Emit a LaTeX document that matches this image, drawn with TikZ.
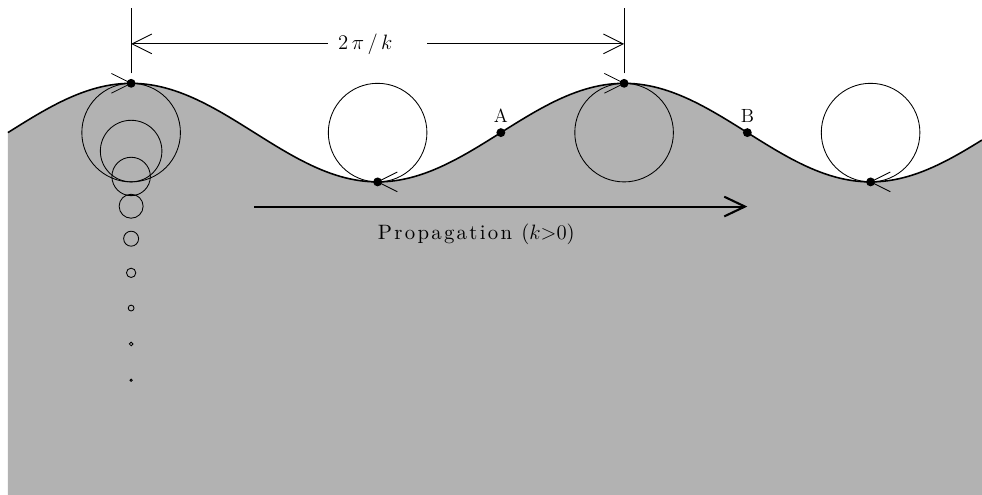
\documentclass[tikz,border=0pt]{standalone}
\usepackage{fontspec}
\usepackage{tikz}
\usetikzlibrary{arrows.meta}

\newfontfamily\propfont{lmroman10-regular.otf}[LetterSpace=11]

\begin{document}
\begin{tikzpicture}[
        font=\fontsize{11}{13}\selectfont,
        wave/.style={line width=0.9pt},
        orbit/.style={line width=0.5pt},
        dimline/.style={line width=0.5pt},
        dimarrow/.style={line width=0.5pt,-{Straight Barb[length=4mm,width=4mm]}},
        proparrow/.style={line width=1.2pt,-{Straight Barb[length=4.2mm,width=4mm]}},
        ptlabel/.style={above=4.5pt,inner sep=1pt},
    ]
        \useasboundingbox (-2.66,-7.35) rectangle (17.26,2.69);

        % Water and free surface
        \fill[black!30] (-2.5,-7.35) -- plot[domain=-2.5:17.26,samples=200] (\x,{cos(36*\x)}) -- (17.26,-7.35) -- cycle;
        \draw[wave] plot[domain=-2.5:17.26,samples=200] (\x,{cos(36*\x)});

        % Particle positions
        \coordinate (crestL) at (0,1);
        \coordinate (troughL) at (5,-1);
        \coordinate (ptA) at (7.5,0);
        \coordinate (crestR) at (10,1);
        \coordinate (ptB) at (12.5,0);
        \coordinate (troughR) at (15,-1);

        % Orbits at the surface
        \foreach \xc in {0,5,10,15}
            \draw[orbit] (\xc,0) circle (1);

        % Orbits shrinking with depth
        \foreach \n in {1,...,8} {
            \pgfmathsetmacro{\z}{0.75*\n}
            \pgfmathsetmacro{\r}{exp(-0.6283*\z)}
            \draw[orbit] (0,{1-\z-\r}) circle (\r);
        }

        % Direction of motion on the orbits
        \draw[orbit] (crestL) -- ++(-0.4,0.2) (crestL) -- ++(-0.4,-0.2);
        \draw[orbit] (crestR) -- ++(-0.4,0.2) (crestR) -- ++(-0.4,-0.2);
        \draw[orbit] (troughL) -- ++(0.4,0.2) (troughL) -- ++(0.4,-0.2);
        \draw[orbit] (troughR) -- ++(0.4,0.2) (troughR) -- ++(0.4,-0.2);

        % Particles
        \foreach \p in {crestL,troughL,ptA,crestR,ptB,troughR}
            \fill (\p) circle (0.09);
        \node[ptlabel] (labA) at (ptA) {A};
        \node[ptlabel] (labB) at (ptB) {B};

        % Wavelength
        \coordinate (dimL) at (0,1.8);
        \coordinate (dimR) at (10,1.8);
        \draw[dimline] (0,1.2) -- (0,2.53);
        \draw[dimline] (10,1.2) -- (10,2.53);
        \node[text width=1.6cm,inner xsep=0.2cm,align=left,font=\fontsize{12}{14}\selectfont] (len) at (5,1.8) {$2\,\pi\,/\,k$};
        \draw[dimarrow] (len.west) -- (dimL);
        \draw[dimarrow] (len.east) -- (dimR);

        % Propagation
        \coordinate (pstart) at (2.5,-1.5);
        \coordinate (pend) at (12.5,-1.5);
        \draw[proparrow] (pstart) -- (pend);
        \node[anchor=base west,inner sep=0pt,font=\fontsize{12}{14}\selectfont] (prop) at (5,-2.16) {\propfont Propagation ($k{>}0$)};
    \end{tikzpicture}
\end{document}
